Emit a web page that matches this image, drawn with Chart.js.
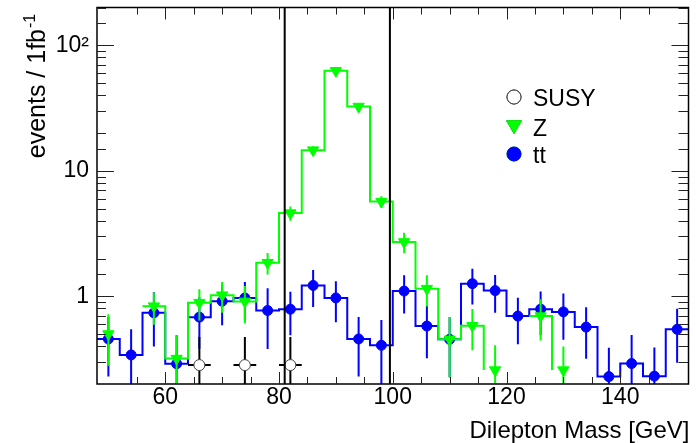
<!doctype html>
<html lang="en">
<head>
<meta charset="utf-8">
<title>Dilepton Mass</title>
<script src="https://cdn.jsdelivr.net/npm/chart.js/dist/chart.umd.min.js"></script>
<style>
  * { margin: 0; padding: 0; }
  body { background: #fff; }
</style>
</head>
<body>
<canvas id="massChart" width="696" height="443"></canvas>
<script>
// 4 GeV bins, values in events / 1fb-1
var binWidth = 4;
var binCenters = [50, 54, 58, 62, 66, 70, 74, 78, 82, 86, 90, 94, 98, 102, 106, 110, 114, 118, 122, 126, 130, 134, 138, 142, 146, 150];
var ttValues = [0.457, 0.341, 0.738, 0.290, 0.682, 0.913, 0.97, 0.77, 0.789, 1.22, 0.97, 0.457, 0.407, 1.10, 0.579, 0.454, 1.26, 1.11, 0.695, 0.79, 0.751, 0.568, 0.229, 0.291, 0.231, 0.545];
var ttErrors = [0.227, 0.204, 0.34, 0.2, 0.3, 0.324, 0.33, 0.39, 0.3, 0.4, 0.35, 0.228, 0.24, 0.37, 0.258, 0.227, 0.4, 0.37, 0.28, 0.3, 0.3, 0.25, 0.16, 0.2, 0.16, 0.25];
var zValues = [0.50, 0, 0.834, 0.319, 0.89, 1.02, 0.91, 1.85, 4.6, 14.6, 62.6, 32.5, 5.68, 2.71, 1.15, 0.454, 0.582, 0.258, 0, 0.695, 0.258, 0, 0, 0, 0, 0];
var zErrors = [0.22, 0, 0.24, 0.17, 0.25, 0.28, 0.3, 0.36, 0.6, 1.1, 2.3, 1.6, 0.6, 0.5, 0.32, 0.23, 0.21, 0.15, 0, 0.25, 0.14, 0, 0, 0, 0, 0];
var susyMass = [66, 74, 82];
var susyValues = [0.283, 0.283, 0.283];
var susyErrors = [0.19, 0.19, 0.19];
var cutLines = [81, 99.5];
var legendLabels = ['SUSY', 'Z', 'tt'];
var yTickLabels = [[1, '1'], [10, '10'], [100, '10\u00b2']];

var FONT = "'Liberation Sans', Arial, sans-serif";
var GREEN = '#00ff00', BLUE = '#0000ff';

function stepPoints(values) {
  var pts = binCenters.map(function (c, i) { return { x: c - binWidth / 2, y: values[i] }; });
  var last = binCenters.length - 1;
  pts.push({ x: binCenters[last] + binWidth / 2, y: values[last] });
  return pts;
}
function markerPoints(xs, values, errs, xerr) {
  var pts = [];
  xs.forEach(function (c, i) {
    if (values[i] > 0) pts.push({ x: c, y: values[i], err: errs[i], xerr: xerr });
  });
  return pts;
}
function yLabel(v) {
  for (var i = 0; i < yTickLabels.length; i++) {
    if (Math.abs(v - yTickLabels[i][0]) < 1e-6 * yTickLabels[i][0]) return yTickLabels[i][1];
  }
  return '';
}
function noPad(s) {
  s.paddingTop = 0; s.paddingBottom = 0; s.paddingLeft = 0; s.paddingRight = 0;
}

var histPlugin = {
  id: 'hist',
  // error bars go under each marker set
  beforeDatasetDraw: function (chart, args) {
    var ds = chart.data.datasets[args.index];
    if (!ds.errColor) return;
    var ctx = chart.ctx, a = chart.chartArea, xs = chart.scales.x, ys = chart.scales.y;
    ctx.save();
    ctx.beginPath();
    ctx.rect(a.left, a.top, a.right - a.left, a.bottom - a.top);
    ctx.clip();
    ctx.strokeStyle = ds.errColor;
    ctx.lineWidth = 2;
    ds.data.forEach(function (p) {
      var px = xs.getPixelForValue(p.x);
      var lo = p.y - p.err;
      var top = ys.getPixelForValue(p.y + p.err);
      var bot = lo > 0 ? ys.getPixelForValue(lo) : a.bottom + 5;
      ctx.beginPath();
      ctx.moveTo(px, top);
      ctx.lineTo(px, bot);
      if (p.xerr) {
        var py = ys.getPixelForValue(p.y);
        ctx.moveTo(xs.getPixelForValue(p.x - p.xerr), py);
        ctx.lineTo(xs.getPixelForValue(p.x + p.xerr), py);
      }
      ctx.stroke();
    });
    ctx.restore();
  },
  afterDatasetsDraw: function (chart) {
    var ctx = chart.ctx, a = chart.chartArea, xs = chart.scales.x, ys = chart.scales.y;
    ctx.save();
    // cut lines
    ctx.strokeStyle = '#000';
    ctx.lineWidth = 2;
    cutLines.forEach(function (v) {
      var px = xs.getPixelForValue(v);
      ctx.beginPath();
      ctx.moveTo(px, a.top);
      ctx.lineTo(px, a.bottom);
      ctx.stroke();
    });
    // frame
    ctx.lineWidth = 1.5;
    ctx.strokeRect(a.left, a.top, a.right - a.left, a.bottom - a.top);
    // inward ticks, mirrored on top/right
    ctx.lineWidth = 1;
    ctx.strokeStyle = '#222';
    ctx.beginPath();
    xs.ticks.forEach(function (t) {
      if (t.value % 5 !== 0) return;
      var px = Math.round(xs.getPixelForValue(t.value)) + 0.5;
      var len = t.value % 20 === 0 ? 12 : 7;
      ctx.moveTo(px, a.bottom); ctx.lineTo(px, a.bottom - len);
      ctx.moveTo(px, a.top); ctx.lineTo(px, a.top + len);
    });
    ys.ticks.forEach(function (t) {
      var py = Math.round(ys.getPixelForValue(t.value)) + 0.5;
      if (py < a.top + 1 || py > a.bottom - 1) return;
      var major = yLabel(t.value) !== '';
      ctx.moveTo(a.left, py); ctx.lineTo(a.left + (major ? 17 : 9), py);
      ctx.moveTo(a.right, py); ctx.lineTo(a.right - (major ? 17 : 10), py);
    });
    ctx.stroke();
    ctx.restore();
  },
  afterDraw: function (chart) {
    var ctx = chart.ctx, a = chart.chartArea;
    ctx.save();
    ctx.fillStyle = '#000';
    // axis titles
    ctx.font = '24px ' + FONT;
    ctx.textAlign = 'right';
    ctx.textBaseline = 'alphabetic';
    ctx.fillText('Dilepton Mass [GeV]', a.right + 1, 438);
    ctx.save();
    ctx.translate(45, 29);
    ctx.rotate(-Math.PI / 2);
    ctx.font = '25px ' + FONT;
    ctx.textAlign = 'right';
    ctx.fillText('events / 1fb', 0, 0);
    ctx.font = '16px ' + FONT;
    ctx.textAlign = 'left';
    ctx.fillText('-1', 1, -10);
    ctx.restore();
    // legend
    var rows = [97, 125, 154];
    var mx = 514;
    chart.data.datasets.filter(function (d) { return d.legendIndex !== undefined; }).forEach(function (d) {
      var y = rows[d.legendIndex];
      Chart.helpers.drawPoint(ctx, {
        pointStyle: d.pointStyle, rotation: d.pointRotation || 0,
        radius: d.legendRadius, borderWidth: d.borderWidth || 1
      }, mx, y);
      ctx.fillStyle = d.backgroundColor;
      ctx.strokeStyle = d.borderColor;
      ctx.lineWidth = d.borderWidth || 1;
      ctx.fill();
      ctx.stroke();
      ctx.fillStyle = '#000';
      ctx.font = '23px ' + FONT;
      ctx.textAlign = 'left';
      ctx.textBaseline = 'alphabetic';
      ctx.fillText(legendLabels[d.legendIndex], 533, [106, 136, 163][d.legendIndex]);
    });
    ctx.restore();
  }
};

var ctx = document.getElementById('massChart');
var massChart = new Chart(ctx, {
  type: 'line',
  data: {
    datasets: [
      {
        label: 'SUSY', legendIndex: 0, order: 1,
        data: markerPoints(susyMass, susyValues, susyErrors, binWidth / 2),
        showLine: false, pointStyle: 'circle', pointRadius: 5.5, legendRadius: 7,
        backgroundColor: '#fff', borderColor: '#444', borderWidth: 1,
        pointBackgroundColor: '#fff', pointBorderColor: '#444', pointBorderWidth: 1,
        errColor: '#000'
      },
      {
        label: 'Z', legendIndex: 1, order: 2,
        data: markerPoints(binCenters, zValues, zErrors, 0),
        showLine: false, pointStyle: 'triangle', pointRotation: 180, pointRadius: 6.5, legendRadius: 8.5,
        backgroundColor: GREEN, borderColor: GREEN, borderWidth: 1,
        pointBackgroundColor: GREEN, pointBorderColor: GREEN,
        errColor: GREEN
      },
      {
        label: 'Z step', order: 3,
        data: stepPoints(zValues),
        stepped: 'before', borderColor: GREEN, borderWidth: 2, pointRadius: 0, fill: false
      },
      {
        label: 'tt', legendIndex: 2, order: 4,
        data: markerPoints(binCenters, ttValues, ttErrors, 0),
        showLine: false, pointStyle: 'circle', pointRadius: 5, legendRadius: 7,
        backgroundColor: BLUE, borderColor: BLUE, borderWidth: 1,
        pointBackgroundColor: BLUE, pointBorderColor: BLUE,
        errColor: BLUE
      },
      {
        label: 'tt step', order: 5,
        data: stepPoints(ttValues),
        stepped: 'before', borderColor: BLUE, borderWidth: 2, pointRadius: 0, fill: false
      }
    ]
  },
  options: {
    responsive: false,
    animation: false,
    devicePixelRatio: 1,
    layout: { padding: { top: 5, right: 7, left: 0, bottom: 0 } },
    plugins: { legend: { display: false }, tooltip: { enabled: false } },
    scales: {
      x: {
        type: 'linear', min: 48, max: 152,
        afterFit: function (s) { s.height = 59; noPad(s); },
        grid: { display: false, drawTicks: false },
        border: { display: false },
        ticks: {
          stepSize: 5, autoSkip: false, maxRotation: 0, padding: 0,
          font: { family: FONT, size: 23 }, color: '#000',
          callback: function (v) { return v % 20 === 0 ? String(v) : ''; }
        }
      },
      y: {
        type: 'logarithmic', min: 0.2, max: 200,
        afterFit: function (s) { s.width = 97; noPad(s); },
        grid: { display: false, drawTicks: false },
        border: { display: false },
        ticks: {
          autoSkip: false, padding: 8,
          font: { family: FONT, size: 23 }, color: '#000',
          callback: function (v) { return yLabel(v); }
        }
      }
    }
  },
  plugins: [histPlugin]
});
</script>
</body>
</html>
